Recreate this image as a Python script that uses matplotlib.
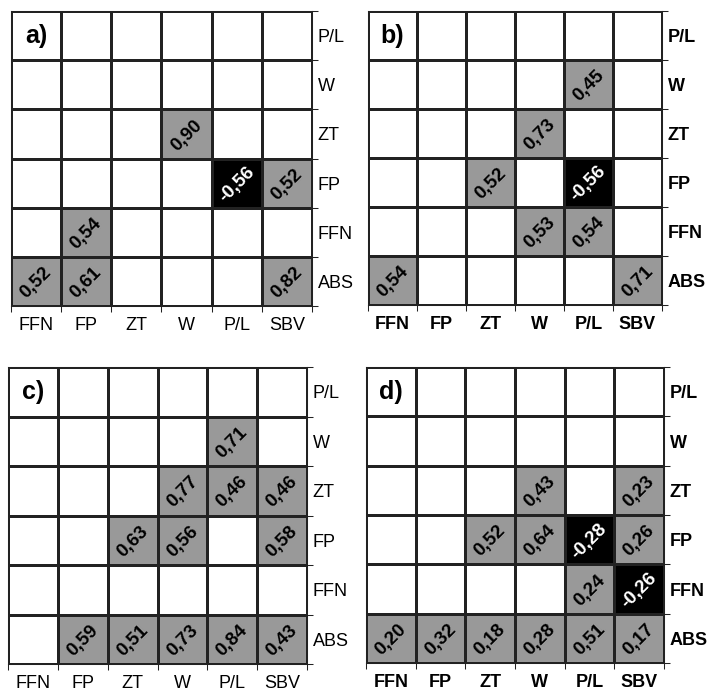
import numpy as np
import matplotlib.pyplot as plt
from matplotlib.colors import ListedColormap

plt.rcParams['font.family'] = ['Liberation Sans', 'DejaVu Sans']

col_labels = ['FFN', 'FP', 'ZT', 'W', 'P/L', 'SBV']
row_labels = ['P/L', 'W', 'ZT', 'FP', 'FFN', 'ABS']  # top -> bottom
N = np.nan

# correlation values, rows top -> bottom, columns FFN..SBV
vals_a = [[N, N, N, N, N, N],
          [N, N, N, N, N, N],
          [N, N, N, 0.90, N, N],
          [N, N, N, N, -0.56, 0.52],
          [N, 0.54, N, N, N, N],
          [0.52, 0.61, N, N, N, 0.82]]
vals_b = [[N, N, N, N, N, N],
          [N, N, N, N, 0.45, N],
          [N, N, N, 0.73, N, N],
          [N, N, 0.52, N, -0.56, N],
          [N, N, N, 0.53, 0.54, N],
          [0.54, N, N, N, N, 0.71]]
vals_c = [[N, N, N, N, N, N],
          [N, N, N, N, 0.71, N],
          [N, N, N, 0.77, 0.46, 0.46],
          [N, N, 0.63, 0.56, N, 0.58],
          [N, N, N, N, N, N],
          [N, 0.59, 0.51, 0.73, 0.84, 0.43]]
vals_d = [[N, N, N, N, N, N],
          [N, N, N, N, N, N],
          [N, N, N, 0.43, N, 0.23],
          [N, N, 0.52, 0.64, -0.28, 0.26],
          [N, N, N, N, 0.24, -0.26],
          [0.20, 0.32, 0.18, 0.28, 0.51, 0.17]]

panels = [('a)', vals_a, False, [0.0155, 0.5584, 0.4245, 0.4257]),
          ('b)', vals_b, True, [0.519, 0.5599, 0.4147, 0.4242]),
          ('c)', vals_c, False, [0.0113, 0.0418, 0.4217, 0.4286]),
          ('d)', vals_d, True, [0.5162, 0.0433, 0.4203, 0.4270])]

cmap = ListedColormap(['white', '#999999', 'black'])
lc = '#222222'

fig = plt.figure(figsize=(7.09, 6.93), dpi=100)

for name, vals, bold, pos in panels:
    ax = fig.add_axes(pos)
    v = np.array(vals, dtype=float)[::-1]  # bottom row first
    cat = np.zeros_like(v)
    cat[v > 0] = 1
    cat[v < 0] = 2
    ax.pcolormesh(np.arange(7), np.arange(7), cat, cmap=cmap, vmin=0, vmax=2,
                  edgecolors=lc, linewidth=0.75)
    for i in range(6):
        for j in range(6):
            if np.isnan(v[i, j]):
                continue
            txt = ('%.2f' % v[i, j]).replace('.', ',')
            ax.text(j + 0.5, i + 0.47, txt, rotation=45, ha='center', va='center',
                    fontsize=13.5, fontweight='bold',
                    color='white' if v[i, j] < 0 else 'black')
    ax.text(0.5, 5.5, name, ha='center', va='center', fontsize=18, fontweight='bold')

    ax.set_xlim(0, 6)
    ax.set_ylim(0, 6)
    w = 'bold' if bold else 'normal'
    ax.set_xticks(np.arange(7))
    ax.set_xticklabels([])
    ax.set_xticks(np.arange(6) + 0.5, minor=True)
    ax.set_xticklabels(col_labels, minor=True, fontsize=13, fontweight=w)
    ax.yaxis.tick_right()
    ax.set_yticks(np.arange(7))
    ax.set_yticklabels([])
    ax.set_yticks(np.arange(6) + 0.5, minor=True)
    ax.set_yticklabels(row_labels[::-1], minor=True, fontsize=13, fontweight=w)
    ax.tick_params(which='major', direction='out', length=4, width=0.75, color=lc)
    ax.tick_params(which='minor', length=0)
    ax.tick_params(axis='x', which='minor', pad=8)
    ax.tick_params(axis='y', which='minor', pad=4)
    for s in ax.spines.values():
        s.set_color(lc)
        s.set_linewidth(0.75)

plt.savefig('out.png', dpi=100)
